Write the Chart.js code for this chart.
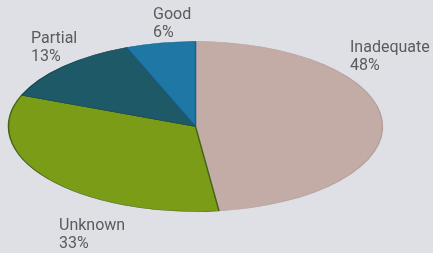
<!DOCTYPE html>
<html>
<head>
<meta charset="utf-8">
<script src="https://cdn.jsdelivr.net/npm/chart.js@4.4.1/dist/chart.umd.min.js"></script>
<style>
  html, body { margin: 0; padding: 0; background: #dfe0e5; }
  #wrap { width: 433px; height: 253px; }
</style>
</head>
<body>
<div id="wrap"><canvas id="pieChart" width="433" height="253"></canvas></div>
<script>
const categories = ['Inadequate', 'Unknown', 'Partial', 'Good'];
const shares = [48, 33, 13, 6];
const shareLabels = ['48%', '33%', '13%', '6%'];

const sliceColors = ['#c4aca6', '#7b9c17', '#1d5966', '#1f77a6'];
const sliceBorders = ['#b2a09c', '#44621a', '#123f48', '#1a5f86'];

// where each label block starts (left x, first baseline)
const labelSpots = [
    { x: 350, y: 52 },
    { x: 59, y: 230 },
    { x: 31, y: 43 },
    { x: 153, y: 19 }
];

// the pie is drawn as a circle and squashed into an ellipse
const squash = 85 / 187;

const squashPlugin = {
    id: 'squash',
    beforeDatasetsDraw: (chart) => {
        const arc = chart.getDatasetMeta(0).data[0];
        const ctx = chart.ctx;
        ctx.save();
        ctx.translate(arc.x, arc.y);
        ctx.scale(1, squash);
        ctx.translate(-arc.x, -arc.y);
    },
    afterDatasetsDraw: (chart) => {
        chart.ctx.restore();
    }
};

const labelPlugin = {
    id: 'sliceLabels',
    afterDraw: (chart) => {
        const ctx = chart.ctx;
        ctx.save();
        ctx.fillStyle = '#5b5b5d';
        ctx.font = '16px Roboto';
        ctx.textAlign = 'left';
        ctx.textBaseline = 'alphabetic';
        categories.forEach((name, i) => {
            const spot = labelSpots[i];
            ctx.fillText(name, spot.x, spot.y);
            ctx.fillText(shareLabels[i], spot.x, spot.y + 18);
        });
        ctx.restore();
    }
};

const ctx = document.getElementById('pieChart').getContext('2d');

new Chart(ctx, {
    type: 'pie',
    data: {
        labels: categories,
        datasets: [{
            data: shares,
            backgroundColor: sliceColors,
            borderColor: sliceBorders,
            borderWidth: 1.5,
            radius: 187,
            clip: false
        }]
    },
    options: {
        responsive: false,
        devicePixelRatio: 1,
        animation: false,
        rotation: 0,
        layout: {
            padding: { left: 0, right: 42, top: 0, bottom: 0 }
        },
        plugins: {
            legend: { display: false },
            tooltip: { enabled: false }
        }
    },
    plugins: [squashPlugin, labelPlugin]
});
</script>
</body>
</html>
